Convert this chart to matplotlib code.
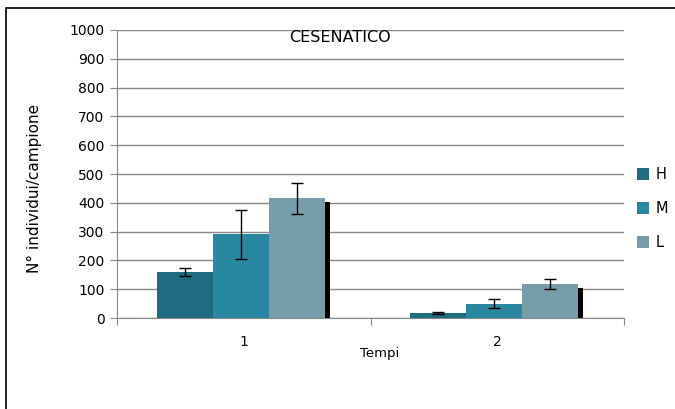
import matplotlib.pyplot as plt
from matplotlib.patches import Rectangle

# data
tempi = ['1', '2']
series = ['H', 'M', 'L']
H = [160, 18]
M = [290, 50]
L = [415, 118]
H_err = [15, 3]
M_err = [85, 15]
L_err = [55, 17]
shadow = [403, 103]   # thin black bar behind L

colors = ['#1f6b80', '#2a87a1', '#779dab']

fig = plt.figure(figsize=(6.75, 4.09), dpi=100)
fig.patches.append(Rectangle((6/675, -0.05), 1.1, 1.05 - 8/409, transform=fig.transFigure,
                             fill=False, edgecolor='black', linewidth=1.2))
ax = fig.add_axes([117/675, 1 - 318/409, (624-117)/675, (318-30)/409])

centers = [0.5, 1.5]
w = 0.221
offsets = [-0.232, -0.011, 0.21]
vals = [H, M, L]
errs = [H_err, M_err, L_err]
for j in range(3):
    xs = [c + offsets[j] for c in centers]
    ax.bar(xs, vals[j], width=w, color=colors[j], label=series[j], zorder=3)
    ax.errorbar(xs, vals[j], yerr=errs[j], fmt='none', ecolor='black',
                elinewidth=1.0, capsize=4, capthick=1.0, zorder=4)
ax.bar([c + 0.33 for c in centers], shadow, width=0.02, color='black', zorder=2)

ax.set_xlim(0, 2)
ax.set_ylim(0, 1000)
ax.set_yticks(range(0, 1001, 100))
ax.set_xticks([0, 1, 2])
ax.set_xticklabels([])
ax.set_xticks(centers, minor=True)
ax.set_xticklabels(tempi, minor=True)
ax.tick_params(axis='x', which='minor', length=0, pad=12, labelsize=10)
ax.tick_params(axis='x', which='major', length=5, color='#888888', direction='out')
ax.tick_params(axis='y', length=5, color='#888888', labelsize=10, pad=4)
ax.grid(axis='y', color='#888888', linewidth=1, zorder=0)
for s in ['top', 'right']:
    ax.spines[s].set_visible(False)
ax.spines['left'].set_color('#888888')
ax.spines['bottom'].set_color('#888888')

fig.text(380/675, 1 - 357/409, 'Tempi', fontsize=9.5, ha='center')
fig.text(34/675, 1 - 188/409, 'N° individui/campione', fontsize=11, rotation=90,
         ha='center', va='center')
fig.text(340/675, 1 - 38/409, 'CESENATICO', fontsize=11.5, ha='center', va='center')

ax.legend(loc='center left', bbox_to_anchor=(1.0, 0.38), frameon=False,
          fontsize=10.5, handlelength=0.8, handleheight=0.8, labelspacing=1.3,
          handletextpad=0.5)

fig.savefig('out.png', dpi=100)
